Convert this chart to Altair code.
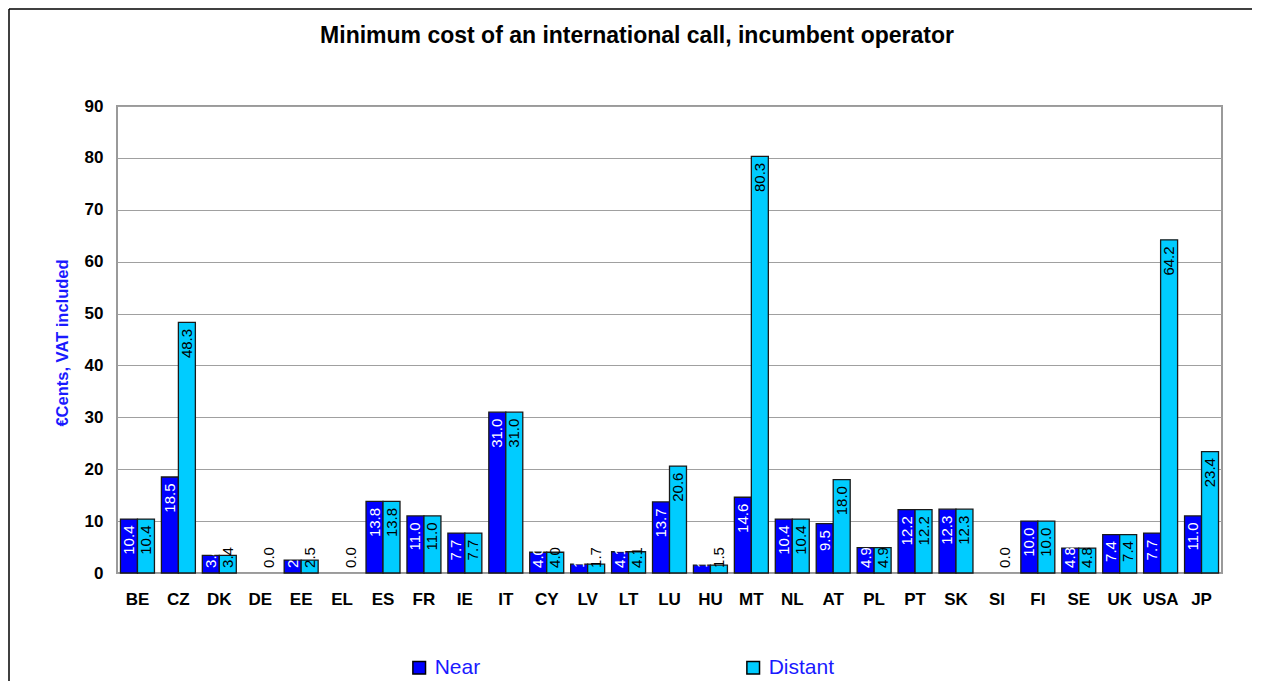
import altair as alt
import pandas as pd

countries = ["BE", "CZ", "DK", "DE", "EE", "EL", "ES", "FR", "IE", "IT", "CY", "LV", "LT", "LU",
             "HU", "MT", "NL", "AT", "PL", "PT", "SK", "SI", "FI", "SE", "UK", "USA", "JP"]
near = [10.4, 18.5, 3.4, 0.0, 2.5, 0.0, 13.8, 11.0, 7.7, 31.0, 4.0, 1.7, 4.1, 13.7,
        1.5, 14.6, 10.4, 9.5, 4.9, 12.2, 12.3, 0.0, 10.0, 4.8, 7.4, 7.7, 11.0]
distant = [10.4, 48.3, 3.4, 0.0, 2.5, 0.0, 13.8, 11.0, 7.7, 31.0, 4.0, 1.7, 4.1, 20.6,
           1.5, 80.3, 10.4, 18.0, 4.9, 12.2, 12.3, 0.0, 10.0, 4.8, 7.4, 64.2, 23.4]
series_names = ["Near", "Distant"]
series_colors = ["#0000FF", "#00CCFF"]
label_colors = ["white", "black"]
title_text = "Minimum cost of an international call, incumbent operator"
y_title = "€Cents, VAT included"
y_ticks = [0, 10, 20, 30, 40, 50, 60, 70, 80, 90]

rows = []
for i, c in enumerate(countries):
    rows.append({"country": c, "series": "Near", "value": near[i], "lc": label_colors[0]})
    rows.append({"country": c, "series": "Distant", "value": distant[i], "lc": label_colors[1]})
df = pd.DataFrame(rows)

FONT = "Liberation Sans"
BLUE_TXT = "#1a1aff"

W, H = 1105, 467

x_enc = alt.X("country:N", sort=countries, title=None,
              scale=alt.Scale(paddingInner=0.17, paddingOuter=0.085),
              axis=alt.Axis(labelAngle=0, ticks=False, domain=False, labelPadding=18,
                            labelFont=FONT, labelFontSize=17, labelFontWeight="bold",
                            labelColor="black"))
xo_enc = alt.XOffset("series:N", sort=series_names,
                     scale=alt.Scale(paddingInner=0, paddingOuter=0))
y_axis = alt.Axis(values=y_ticks, ticks=False, domain=False, labelPadding=14,
                  labelFont=FONT, labelFontSize=17, labelFontWeight="bold", labelColor="black",
                  grid=True, gridColor="#a0a0a0", gridWidth=1,
                  title=y_title, titleFont=FONT, titleFontSize=16.5, titleFontWeight="bold",
                  titleColor=BLUE_TXT, titleAngle=270, titleX=-55, titleY=H / 2 + 3,
                  titleAlign="center", titleBaseline="middle")
y_scale = alt.Scale(domain=[0, 90], nice=False)

bars = alt.Chart(df).transform_filter("datum.value > 0").mark_bar(
    stroke="#1a1a1a", strokeWidth=1.3
).encode(
    x=x_enc,
    xOffset=xo_enc,
    y=alt.Y("value:Q", scale=y_scale, axis=y_axis),
    color=alt.Color("series:N", sort=series_names,
                    scale=alt.Scale(domain=series_names, range=series_colors),
                    legend=alt.Legend(title=None, orient="none", legendX=291.7, legendY=551,
                                      direction="horizontal", columnPadding=262,
                                      symbolType="square", symbolSize=160,
                                      symbolStrokeColor="black", symbolStrokeWidth=1.5,
                                      labelFont=FONT, labelFontSize=21, labelColor=BLUE_TXT,
                                      labelOffset=5, padding=0)),
)

labels = alt.Chart(df).transform_calculate(
    labelpos="max(datum.value - 1.25, 5.0)",
    label="format(datum.value, '.1f')",
).mark_text(angle=270, align="right", baseline="middle", font=FONT, fontSize=15).encode(
    x=x_enc,
    xOffset=xo_enc,
    y=alt.Y("labelpos:Q", scale=y_scale, axis=y_axis),
    text="label:N",
    color=alt.Color("lc:N", scale=None),
)

title = alt.Chart(pd.DataFrame({"t": [title_text]})).mark_text(
    font=FONT, fontSize=23, fontWeight="bold", color="black", align="center", baseline="middle"
).encode(text="t:N", x=alt.value(520), y=alt.value(-70))

frame_left = alt.Chart(pd.DataFrame({"a": [0]})).mark_rule(color="black", strokeWidth=1.5).encode(
    x=alt.value(-108), x2=alt.value(-108), y=alt.value(-97), y2=alt.value(575))
frame_top = alt.Chart(pd.DataFrame({"a": [0]})).mark_rule(color="black", strokeWidth=1.5).encode(
    x=alt.value(-108), x2=alt.value(1135), y=alt.value(-97), y2=alt.value(-97))

chart = alt.layer(bars, labels, title, frame_left, frame_top).properties(
    width=W, height=H,
    autosize=alt.AutoSizeParams(type="none"),
    padding={"left": 109, "top": 98, "right": 30, "bottom": 108},
    background="white",
).configure_view(stroke="#9a9a9a", strokeWidth=2)

chart.save("out.html", embed_options={"renderer": "svg", "actions": False})
